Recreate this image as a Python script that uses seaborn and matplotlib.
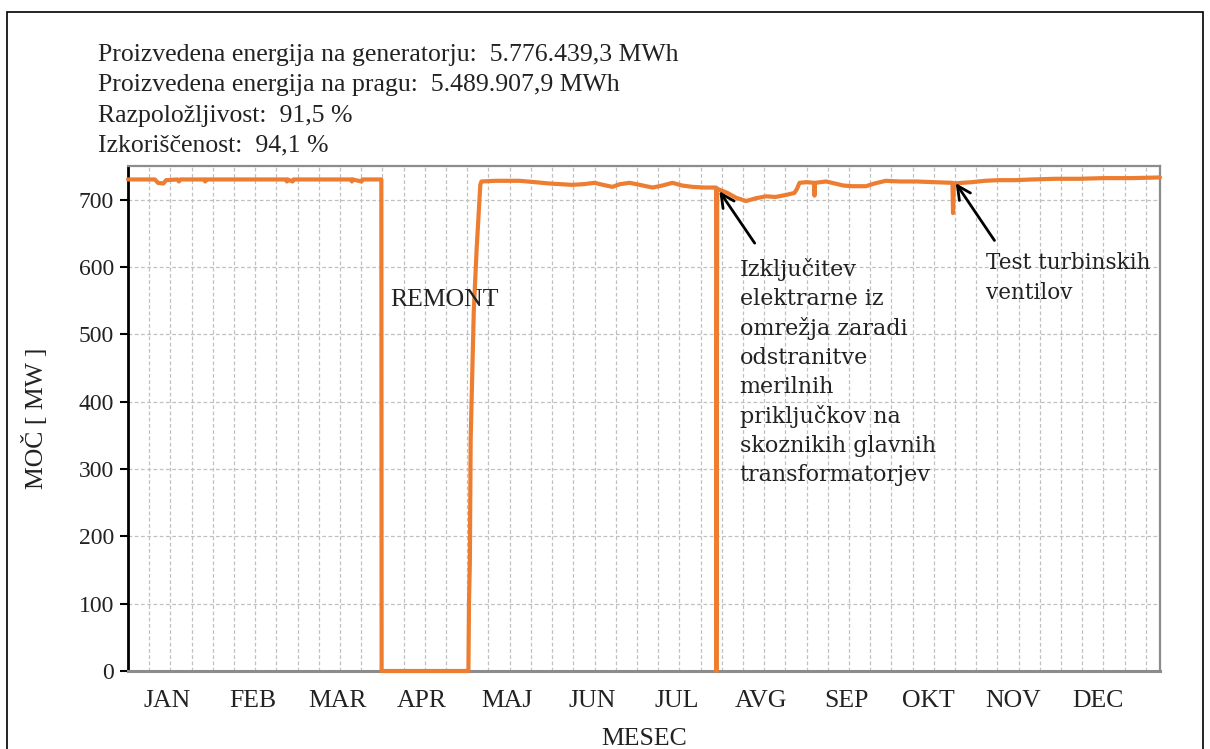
import numpy as np
import pandas as pd
import matplotlib
matplotlib.use("Agg")
import matplotlib.pyplot as plt
from matplotlib.patches import Rectangle
from matplotlib.ticker import MultipleLocator
import seaborn as sns

# ── Data ───────────────────────────────────────────────────────────────────
day = [0, 9.5, 10.6, 12.5, 13.5, 17.5, 18, 18.5, 27, 27.3, 27.6, 56, 56.2, 56.5,
       58.2, 58.5, 79, 79.2, 79.5, 82.6, 82.9, 89.6, 89.7, 120.4, 120.6, 120.9,
       121.2, 122.3, 123.3, 124.6, 125, 130, 138.5, 144, 149, 153, 157, 161, 165,
       168, 171.3, 174, 177.4, 181, 185.5, 189, 192.6, 196, 199.6, 204, 208,
       208.1, 208.4, 209.1, 212, 215, 218.6, 222, 225.7, 229, 232.7, 235.7, 236.6,
       237.5, 240, 242.7, 242.8, 243, 246.9, 250, 253, 256.2, 261, 264, 268, 273,
       278.7, 285, 291.6, 291.8, 292.1, 295, 298.5, 303, 308, 314, 319.7, 328,
       336.4, 345, 355, 365]
power = [730, 730, 725, 724, 729, 730, 727, 730, 730, 727, 730, 730, 727, 730,
         727, 730, 730, 727, 730, 727, 730, 730, 0, 0, 100, 160,
         345, 535, 626, 722, 727, 728, 728, 726, 724, 723, 722, 723, 725,
         722, 719, 723, 725, 722, 718, 721, 725, 721, 719, 718, 718,
         0, 716, 715, 710, 703, 698, 702, 705, 704, 707, 710, 716,
         725, 726, 725, 706, 725, 727, 724, 721, 720, 720, 724, 728, 727,
         727, 726, 725, 680, 724, 725, 726, 728, 729, 729, 730, 731,
         731, 732, 732, 733]

months = ["JAN", "FEB", "MAR", "APR", "MAJ", "JUN", "JUL", "AVG", "SEP", "OKT", "NOV", "DEC"]
month_pos = [14, 44, 74, 104, 134, 164, 194, 224, 254, 283, 313, 343]

info_lines = [
    "Proizvedena energija na generatorju:  5.776.439,3 MWh",
    "Proizvedena energija na pragu:  5.489.907,9 MWh",
    "Razpoložljivost:  91,5 %",
    "Izkoriščenost:  94,1 %",
]

df = pd.DataFrame({"dan": day, "moc": power})

# ── Style ──────────────────────────────────────────────────────────────────
sns.set_theme(style="white")
plt.rcParams["font.family"] = ["Liberation Serif", "DejaVu Serif"]
ORANGE = "#ED7D31"
TXT = "#222222"
NOTE_FONT = ["DejaVu Serif"]

fig = plt.figure(figsize=(12.1, 7.49), dpi=100)
ax = fig.add_axes([128 / 1210, 78 / 749, 1032 / 1210, 505 / 749])

sns.lineplot(data=df, x="dan", y="moc", ax=ax, color=ORANGE, lw=3,
             sort=False, estimator=None)
ax.lines[0].set_clip_on(False)
ax.lines[0].set_zorder(3)

ax.set_xlim(0, 365)
ax.set_ylim(0, 750)
ax.set_yticks(range(0, 701, 100))
ax.set_xticks(month_pos)
ax.set_xticklabels(months)
ax.xaxis.set_minor_locator(MultipleLocator(7.5))

ax.grid(which="major", axis="y", color="#c0c0c0", ls=(0, (3, 2)), lw=0.9)
ax.grid(which="minor", axis="x", color="#c0c0c0", ls=(0, (3, 2)), lw=0.9)
ax.set_axisbelow(True)

ax.tick_params(axis="x", which="both", length=0, labelsize=18.5, pad=14,
               labelcolor=TXT)
ax.tick_params(axis="y", length=6, width=1.5, color="black", labelsize=17,
               direction="out", left=True, pad=4, labelcolor=TXT)

for side in ["top", "right", "bottom"]:
    ax.spines[side].set_color("#8c8c8c")
    ax.spines[side].set_linewidth(1.6)
ax.spines["bottom"].set_linewidth(2.2)
ax.spines["left"].set_color("black")
ax.spines["left"].set_linewidth(2)

ax.set_xlabel("MESEC", fontsize=18.5, labelpad=11, color=TXT)
ax.set_ylabel("MOČ [ MW ]", fontsize=18.5, labelpad=22, color=TXT)

# ── Annotations ────────────────────────────────────────────────────────────
ax.text(92.6, 551, "REMONT", fontsize=18.5, va="center", ha="left", color=TXT)

ax.annotate("", xy=(208.6, 716), xytext=(222.2, 632),
            arrowprops=dict(arrowstyle="->", color="black", lw=2, mutation_scale=24))
ax.text(216.3, 614,
        "Izključitev\nelektrarne iz\nomrežja zaradi\nodstranitve\nmerilnih\n"
        "priključkov na\nskoznikih glavnih\ntransformatorjev",
        fontsize=16, family=NOTE_FONT, va="top", ha="left",
        linespacing=1.41, color=TXT)

ax.annotate("", xy=(292.2, 728), xytext=(307, 636),
            arrowprops=dict(arrowstyle="->", color="black", lw=2, mutation_scale=24))
ax.text(303.5, 622, "Test turbinskih\nventilov", fontsize=15.5, family=NOTE_FONT,
        va="top", ha="left", linespacing=1.45, color=TXT)

# ── Info block and outer frame ─────────────────────────────────────────────
for i, line in enumerate(info_lines):
    fig.text(98 / 1210, 1 - (55 + 30.3 * i) / 749, line, fontsize=18.5,
             va="center", ha="left", color=TXT)

fig.add_artist(Rectangle((7 / 1210, -0.05), 1196 / 1210, 1.05 - 12 / 749,
                         transform=fig.transFigure, fill=False,
                         edgecolor="black", lw=1.2))

fig.savefig("out.png", dpi=100)
